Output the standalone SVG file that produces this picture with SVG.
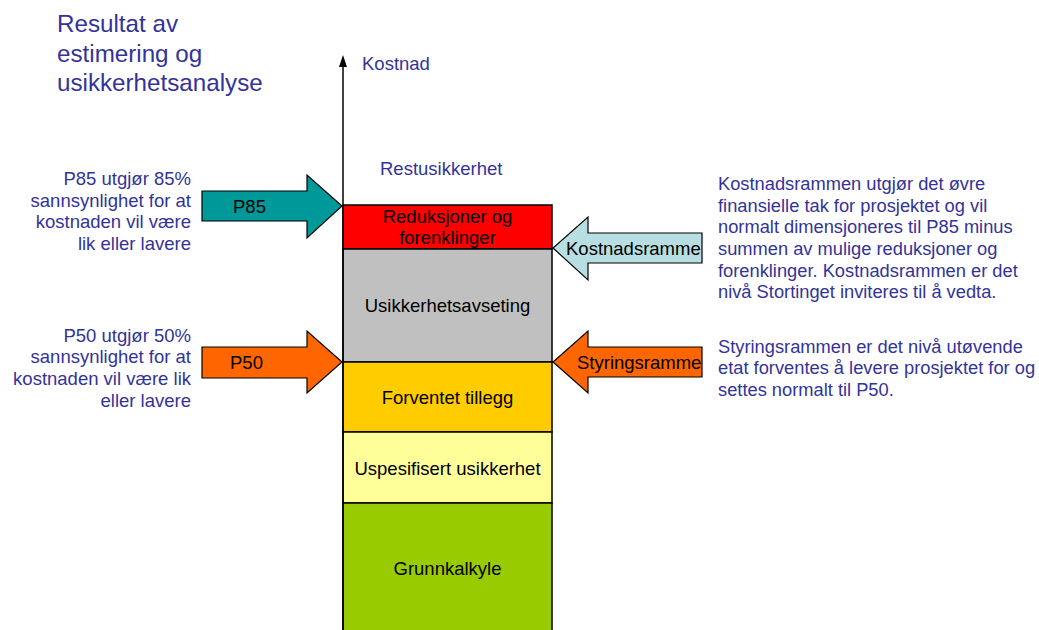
<svg xmlns="http://www.w3.org/2000/svg" width="1039" height="630" viewBox="0 0 1039 630">
<style>
.t{font-family:"Liberation Sans",Arial,sans-serif;fill:#333399}
.b{font-family:"Liberation Sans",Arial,sans-serif;fill:#000;font-size:18.5px}
.box{stroke:#000;stroke-width:1.5}
.arr{stroke:#000;stroke-width:1.2}
</style>
<rect width="1039" height="630" fill="#fff"/>
<text class="t" font-size="24.2" x="57" y="32">Resultat av</text>
<text class="t" font-size="24.2" x="57" y="62">estimering og</text>
<text class="t" font-size="24.2" x="57" y="91">usikkerhetsanalyse</text>
<text class="t" font-size="18.5" x="362" y="70">Kostnad</text>
<text class="t" font-size="18.5" x="380" y="175">Restusikkerhet</text>
<g id="column">
<g id="reduksjoner"><rect class="box" x="343" y="205" width="209" height="44" fill="#FF0000"/>
<text class="b" x="447.5" y="223" text-anchor="middle">Reduksjoner og</text>
<text class="b" x="447.5" y="244" text-anchor="middle">forenklinger</text></g>
<g id="usikkerhetsavseting"><rect class="box" x="343" y="249" width="209" height="113" fill="#C0C0C0"/>
<text class="b" x="447.5" y="312" text-anchor="middle">Usikkerhetsavseting</text></g>
<g id="forventet"><rect class="box" x="343" y="362" width="209" height="70" fill="#FFCC00"/>
<text class="b" x="447.5" y="404" text-anchor="middle">Forventet tillegg</text></g>
<g id="uspesifisert"><rect class="box" x="343" y="432" width="209" height="71" fill="#FFFF99"/>
<text class="b" x="447.5" y="475" text-anchor="middle">Uspesifisert usikkerhet</text></g>
<g id="grunnkalkyle"><rect class="box" x="343" y="503" width="209" height="140" fill="#99CC00"/>
<text class="b" x="447.5" y="575" text-anchor="middle">Grunnkalkyle</text></g>
</g>
<g id="connectors">
<line x1="343" y1="62" x2="343" y2="630" stroke="#000" stroke-width="1.5"/>
<polygon points="343,55 339,67 347,67" fill="#000"/>
</g>
<g id="p85"><polygon class="arr" points="202,191 307,191 307,175 342,206 307,238 307,221 202,221" fill="#009999"/>
<text class="b" x="233" y="213">P85</text></g>
<g id="p50"><polygon class="arr" points="202,347 307,347 307,331 342,362 307,393 307,378 202,378" fill="#FF6600"/>
<text class="b" x="230" y="369">P50</text></g>
<g id="kostnadsramme"><polygon class="arr" points="702,233 588,233 588,217 553,248 588,280 588,263 702,263" fill="#B7DEE0"/>
<text class="b" x="566" y="255">Kostnadsramme</text></g>
<g id="styringsramme"><polygon class="arr" points="702,347 588,347 588,331 553,362 588,393 588,377 702,377" fill="#FF6600"/>
<text class="b" x="577" y="369">Styringsramme</text></g>
<g id="left-text" class="t" font-size="18.5" text-anchor="end">
<text x="191" y="185">P85 utgjør 85%</text>
<text x="191" y="207">sannsynlighet for at</text>
<text x="191" y="228">kostnaden vil være</text>
<text x="191" y="250">lik eller lavere</text>
<text x="191" y="342">P50 utgjør 50%</text>
<text x="191" y="363">sannsynlighet for at</text>
<text x="191" y="385">kostnaden vil være lik</text>
<text x="191" y="407">eller lavere</text>
</g>
<g id="right-text" class="t" font-size="18.3">
<text x="718" y="190">Kostnadsrammen utgjør det øvre</text>
<text x="718" y="212">finansielle tak for prosjektet og vil</text>
<text x="718" y="233">normalt dimensjoneres til P85 minus</text>
<text x="718" y="255">summen av mulige reduksjoner og</text>
<text x="718" y="277">forenklinger. Kostnadsrammen er det</text>
<text x="718" y="298">nivå Stortinget inviteres til å vedta.</text>
<text x="718" y="353">Styringsrammen er det nivå utøvende</text>
<text x="718" y="374">etat forventes å levere prosjektet for og</text>
<text x="718" y="396">settes normalt til P50.</text>
</g>
</svg>
